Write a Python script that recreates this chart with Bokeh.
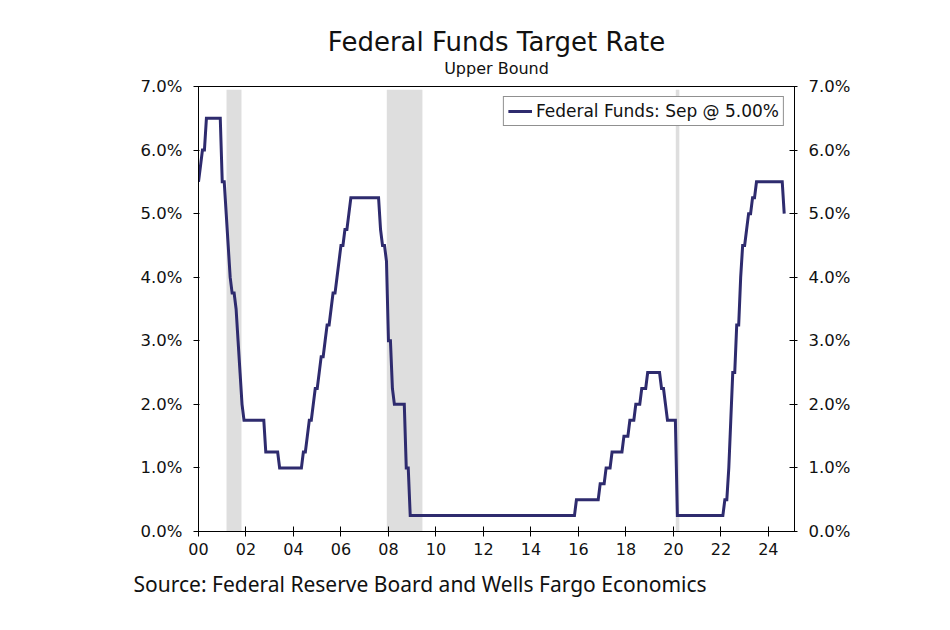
import numpy as np
from bokeh.plotting import figure
from bokeh.models import (LinearAxis, FixedTicker, PrintfTickFormatter, Title,
                          Legend, LegendItem, Range1d)
from bokeh.embed import file_html
from bokeh.resources import INLINE

# ---- Data: Fed funds target rate, upper bound (month-end, %) ----
start_year = 2000
rates_2000 = [5.50, 5.75, 6.00, 6.00, 6.50, 6.50, 6.50, 6.50, 6.50, 6.50, 6.50, 6.50]
rates_2001 = [5.50, 5.50, 5.00, 4.50, 4.00, 3.75, 3.75, 3.50, 3.00, 2.50, 2.00, 1.75]
rates_2002 = [1.75, 1.75, 1.75, 1.75, 1.75, 1.75, 1.75, 1.75, 1.75, 1.75, 1.25, 1.25]
rates_2003 = [1.25, 1.25, 1.25, 1.25, 1.25, 1.00, 1.00, 1.00, 1.00, 1.00, 1.00, 1.00]
rates_2004 = [1.00, 1.00, 1.00, 1.00, 1.00, 1.25, 1.25, 1.50, 1.75, 1.75, 2.00, 2.25]
rates_2005 = [2.25, 2.50, 2.75, 2.75, 3.00, 3.25, 3.25, 3.50, 3.75, 3.75, 4.00, 4.25]
rates_2006 = [4.50, 4.50, 4.75, 4.75, 5.00, 5.25, 5.25, 5.25, 5.25, 5.25, 5.25, 5.25]
rates_2007 = [5.25, 5.25, 5.25, 5.25, 5.25, 5.25, 5.25, 5.25, 4.75, 4.50, 4.50, 4.25]
rates_2008 = [3.00, 3.00, 2.25, 2.00, 2.00, 2.00, 2.00, 2.00, 2.00, 1.00, 1.00, 0.25]
rates_2009 = [0.25, 0.25, 0.25, 0.25, 0.25, 0.25, 0.25, 0.25, 0.25, 0.25, 0.25, 0.25]
rates_2010 = [0.25, 0.25, 0.25, 0.25, 0.25, 0.25, 0.25, 0.25, 0.25, 0.25, 0.25, 0.25]
rates_2011 = [0.25, 0.25, 0.25, 0.25, 0.25, 0.25, 0.25, 0.25, 0.25, 0.25, 0.25, 0.25]
rates_2012 = [0.25, 0.25, 0.25, 0.25, 0.25, 0.25, 0.25, 0.25, 0.25, 0.25, 0.25, 0.25]
rates_2013 = [0.25, 0.25, 0.25, 0.25, 0.25, 0.25, 0.25, 0.25, 0.25, 0.25, 0.25, 0.25]
rates_2014 = [0.25, 0.25, 0.25, 0.25, 0.25, 0.25, 0.25, 0.25, 0.25, 0.25, 0.25, 0.25]
rates_2015 = [0.25, 0.25, 0.25, 0.25, 0.25, 0.25, 0.25, 0.25, 0.25, 0.25, 0.25, 0.50]
rates_2016 = [0.50, 0.50, 0.50, 0.50, 0.50, 0.50, 0.50, 0.50, 0.50, 0.50, 0.50, 0.75]
rates_2017 = [0.75, 0.75, 1.00, 1.00, 1.00, 1.25, 1.25, 1.25, 1.25, 1.25, 1.25, 1.50]
rates_2018 = [1.50, 1.50, 1.75, 1.75, 1.75, 2.00, 2.00, 2.00, 2.25, 2.25, 2.25, 2.50]
rates_2019 = [2.50, 2.50, 2.50, 2.50, 2.50, 2.50, 2.25, 2.25, 2.00, 1.75, 1.75, 1.75]
rates_2020 = [1.75, 1.75, 0.25, 0.25, 0.25, 0.25, 0.25, 0.25, 0.25, 0.25, 0.25, 0.25]
rates_2021 = [0.25, 0.25, 0.25, 0.25, 0.25, 0.25, 0.25, 0.25, 0.25, 0.25, 0.25, 0.25]
rates_2022 = [0.25, 0.25, 0.50, 0.50, 1.00, 1.75, 2.50, 2.50, 3.25, 3.25, 4.00, 4.50]
rates_2023 = [4.50, 4.75, 5.00, 5.00, 5.25, 5.25, 5.50, 5.50, 5.50, 5.50, 5.50, 5.50]
rates_2024 = [5.50, 5.50, 5.50, 5.50, 5.50, 5.50, 5.50, 5.50, 5.00]

# Recession periods (fractional years)
rec_start = [2001.18, 2007.93, 2020.10]
rec_end = [2001.81, 2009.43, 2020.25]

tick_years = [2000, 2002, 2004, 2006, 2008, 2010, 2012, 2014, 2016, 2018, 2020, 2022, 2024]
tick_labels = ["00", "02", "04", "06", "08", "10", "12", "14", "16", "18", "20", "22", "24"]
y_ticks = [0, 1, 2, 3, 4, 5, 6, 7]

monthly = (rates_2000 + rates_2001 + rates_2002 + rates_2003 + rates_2004 + rates_2005
           + rates_2006 + rates_2007 + rates_2008 + rates_2009 + rates_2010 + rates_2011
           + rates_2012 + rates_2013 + rates_2014 + rates_2015 + rates_2016 + rates_2017
           + rates_2018 + rates_2019 + rates_2020 + rates_2021 + rates_2022 + rates_2023
           + rates_2024)
dates = [start_year + i / 12.0 for i in range(len(monthly))]

LINE = "#2e2b6e"
TXT = "#111111"
FONT = "DejaVu Sans"

p = figure(width=945, height=620, x_range=Range1d(2000, 2025.1), y_range=Range1d(0, 7),
           output_backend="svg", toolbar_location=None,
           min_border_left=198, min_border_right=151, min_border_top=86, min_border_bottom=89)
p.grid.visible = False
p.outline_line_color = "black"
p.outline_line_width = 1
p.background_fill_color = "white"
p.border_fill_color = "white"

p.quad(left=rec_start, right=rec_end, bottom=0, top=6.95, fill_color="#dedede", line_color=None)
r = p.line(dates, monthly, line_width=3, line_color=LINE, line_join="miter")

# Axes
xa = p.xaxis[0]
xa.ticker = FixedTicker(ticks=tick_years)
xa.major_label_overrides = {y: l for y, l in zip(tick_years, tick_labels)}
xa.major_tick_in = 5
xa.major_tick_out = 5
xa.minor_tick_line_color = None
xa.axis_line_color = "black"
xa.major_tick_line_color = "black"
xa.major_label_text_font = FONT
xa.major_label_text_font_size = "16px"
xa.major_label_text_color = TXT
xa.major_label_standoff = 6

ya = p.yaxis[0]
ya.ticker = FixedTicker(ticks=y_ticks)
ya.formatter = PrintfTickFormatter(format="%.1f%%")
ya.major_tick_in = 1
ya.major_tick_out = 5
ya.minor_tick_line_color = None
ya.axis_line_color = "black"
ya.major_tick_line_color = "black"
ya.major_label_text_font = FONT
ya.major_label_text_font_size = "16.5px"
ya.major_label_text_color = TXT
ya.major_label_standoff = 11

ra = LinearAxis(ticker=FixedTicker(ticks=y_ticks), formatter=PrintfTickFormatter(format="%.1f%%"))
ra.major_tick_in = 5
ra.major_tick_out = 3
ra.minor_tick_line_color = None
ra.axis_line_color = "black"
ra.major_tick_line_color = "black"
ra.major_label_text_font = FONT
ra.major_label_text_font_size = "16.5px"
ra.major_label_text_color = TXT
ra.major_label_standoff = 11
p.add_layout(ra, "right")

# Legend
legend = Legend(items=[LegendItem(label="Federal Funds: Sep @ %.2f%%" % monthly[-1], renderers=[r])],
                location="top_right", margin=10, padding=4, spacing=0,
                glyph_width=24, glyph_height=16, label_height=16, label_standoff=4,
                label_text_font=FONT, label_text_font_size="17px", label_text_color=TXT,
                border_line_color="#222222", border_line_width=1.2,
                background_fill_color="white", background_fill_alpha=1)
p.add_layout(legend)

# Titles: panels stack upward from the frame (spacer, subtitle, main title)
spacer = Title(text=" ", align="center", text_font=FONT, text_font_size="7px", standoff=-1)
sub = Title(text="Upper Bound", align="center", text_font=FONT, text_font_size="16px",
            text_font_style="normal", text_color=TXT, standoff=0)
main = Title(text="Federal Funds Target Rate", align="center", text_font=FONT,
             text_font_size="26px", text_font_style="normal", text_color=TXT, standoff=0)
p.add_layout(spacer, "above")
p.add_layout(sub, "above")
p.add_layout(main, "above")

src = Title(text="Source: Federal Reserve Board and Wells Fargo Economics", align="left",
            offset=-65, text_font="Noto Sans", text_font_size="21px",
            text_font_style="normal", text_color=TXT, standoff=20)
p.add_layout(src, "below")

open("out.html", "w").write(file_html(p, INLINE))
